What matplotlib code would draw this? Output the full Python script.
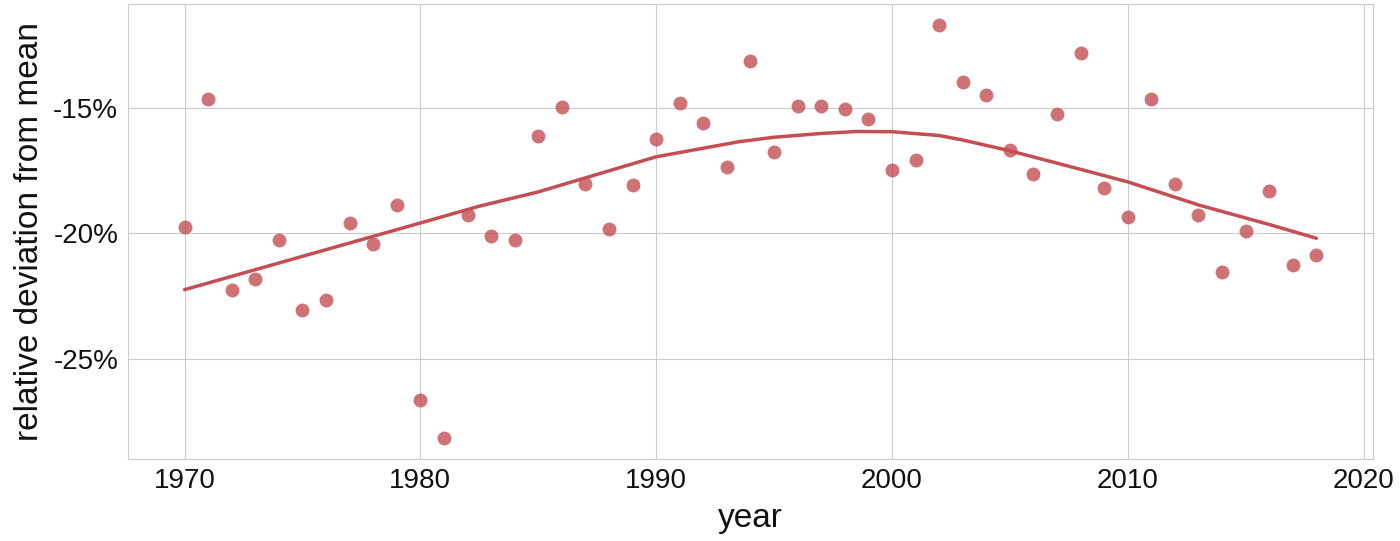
import matplotlib
matplotlib.use("Agg")
import matplotlib.pyplot as plt
import matplotlib.ticker as mticker
import seaborn as sns

# yearly values, relative deviation from mean (%)
years = list(range(1970, 2019))
deviation = [
    -19.77, -14.64, -22.28, -21.81, -20.25, -23.05, -22.67, -19.59, -20.43, -18.87,
    -26.67, -28.17, -19.27, -20.09, -20.25, -16.13, -14.96, -18.03, -19.83, -18.09,
    -16.25, -14.80, -15.59, -17.36, -13.13, -16.75, -14.92, -14.92, -15.03, -15.43,
    -17.48, -17.09, -11.68, -13.96, -14.48, -16.69, -17.64, -15.25, -12.80, -18.20,
    -19.37, -14.63, -18.04, -19.27, -21.55, -19.92, -18.31, -21.27, -20.88,
]

# smoothed trend
trend_years = [1970, 1975, 1980, 1982.5, 1985, 1990, 1993.5, 1995, 1997, 1998.5,
               2000, 2002, 2003, 2005, 2008, 2010, 2013, 2016, 2018]
trend_vals = [-22.25, -20.92, -19.59, -18.92, -18.35, -16.95, -16.35, -16.17, -16.02, -15.94,
              -15.95, -16.10, -16.28, -16.71, -17.45, -17.95, -18.87, -19.65, -20.20]

sns.set_style("whitegrid")
plt.rcParams["font.family"] = ["Liberation Sans", "DejaVu Sans"]

red = "#C44E52"

fig = plt.figure(figsize=(14, 5.41), dpi=100)
ax = fig.add_axes([0.0914, 0.152, 0.8893, 0.8406])

ax.scatter(years, deviation, s=100, color=red, alpha=0.8, linewidths=0, zorder=3)
ax.plot(trend_years, trend_vals, color=red, lw=2.5, zorder=4)

ax.yaxis.set_major_locator(mticker.MultipleLocator(5))
ax.yaxis.set_major_formatter(mticker.FuncFormatter(lambda v, p: f"{v:.0f}%"))
ax.xaxis.set_major_locator(mticker.MultipleLocator(10))

ax.tick_params(labelsize=20, colors="#111111")
ax.set_xlabel("year", fontsize=24, labelpad=6, color="#111111")
ax.set_ylabel("relative deviation from mean", fontsize=24, labelpad=6, color="#111111")

for s in ax.spines.values():
    s.set_color("#cccccc")

plt.savefig("out.png", dpi=100)
